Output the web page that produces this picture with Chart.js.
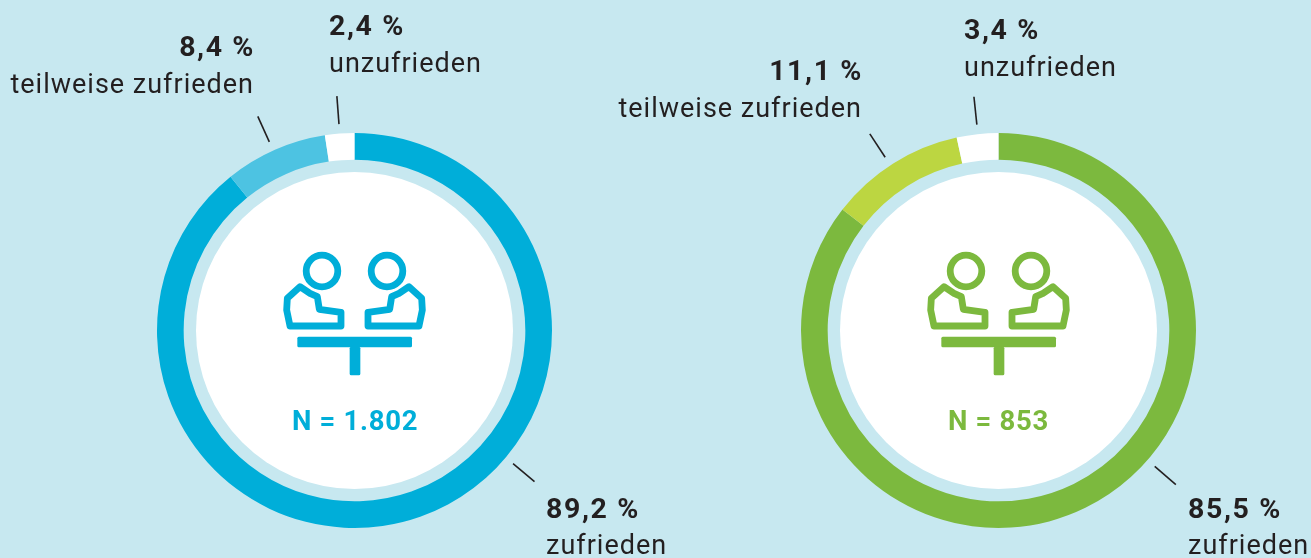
<!DOCTYPE html>
<html><head><meta charset="utf-8">
<script src="https://cdn.jsdelivr.net/npm/chart.js@4"></script>
<style>
html,body{margin:0;padding:0;background:#c7e8f0;width:1311px;height:558px;overflow:hidden}
canvas{position:absolute;top:0}
.t{position:absolute;white-space:nowrap;font-family:Roboto,sans-serif;color:#231f20;font-size:27px;line-height:30px;letter-spacing:1px}
.b{font-weight:700;font-size:28.5px;letter-spacing:1.6px}
.n{font-weight:700;font-size:27.5px;letter-spacing:.7px;text-align:center;width:200px}
</style></head><body>
<div id="wrapA" style="position:absolute;left:0;top:0;width:655px;height:558px"><canvas id="a"></canvas></div>
<div id="wrapB" style="position:absolute;left:655px;top:0;width:656px;height:558px"><canvas id="b"></canvas></div>
<script>
const categories = ["zufrieden", "teilweise zufrieden", "unzufrieden"];
const valuesLeft = [89.2, 8.4, 2.4];
const valuesRight = [85.5, 11.1, 3.4];
const valueLabelsLeft = ["89,2 %", "8,4 %", "2,4 %"];
const valueLabelsRight = ["85,5 %", "11,1 %", "3,4 %"];
const colorsLeft = ["#00aed9", "#4dc3e2", "#ffffff"];
const colorsRight = ["#7cb93e", "#bcd641", "#ffffff"];
const totalLeft = "N = 1.802";
const totalRight = "N = 853";
const leaderAnglesLeft = [130, -24.3, -4.3];
const leaderAnglesRight = [131, -33.2, -6];

function icon(ctx, cx, cy, color){
  const Z = (x,y)=>[x/3-124.5, y/3-100.5];
  const body=[[210,170],[172,205],[170,240],[180,288],[333,288],[333,247],[268,238],[262,200],[240,190]];
  ctx.save(); ctx.translate(cx,cy);
  ctx.strokeStyle=color; ctx.fillStyle=color; ctx.lineWidth=6.8; ctx.lineJoin='round';
  for(const s of [1,-1]){
    ctx.beginPath();
    body.forEach((p,i)=>{const q=Z(p[0],p[1]); ctx[i?'lineTo':'moveTo'](q[0]*s,q[1]);});
    ctx.closePath(); ctx.stroke();
    const h=Z(276,123);
    ctx.beginPath(); ctx.arc(h[0]*s,h[1],15.8,0,Math.PI*2); ctx.stroke();
  }
  let p=Z(202,320); ctx.beginPath(); ctx.roundRect(p[0],p[1],344/3,32/3,1.5); ctx.fill();
  p=Z(359,350); ctx.beginPath(); ctx.roundRect(p[0],p[1],32/3,86/3,1.5); ctx.fill();
  ctx.restore();
}

const centerPlugin = {
  id:'center',
  beforeDatasetsDraw(chart,args,opts){
    const m=chart.getDatasetMeta(0).data[0], ctx=chart.ctx;
    ctx.save(); ctx.fillStyle='#fff'; ctx.beginPath(); ctx.arc(m.x,m.y,158.5,0,Math.PI*2); ctx.fill(); ctx.restore();
    icon(ctx,m.x,m.y,opts.iconColor);
  },
  afterDatasetsDraw(chart,args,opts){
    const m=chart.getDatasetMeta(0).data[0], ctx=chart.ctx;
    ctx.save(); ctx.strokeStyle='#231f20'; ctx.lineWidth=1.6;
    opts.leaders.forEach(a=>{
      const r=a*Math.PI/180, s=Math.sin(r), c=-Math.cos(r);
      ctx.beginPath(); ctx.moveTo(m.x+s*207,m.y+c*207); ctx.lineTo(m.x+s*235,m.y+c*235); ctx.stroke();
    });
    ctx.restore();
  }
};

function ring(id,values,colors,pad,leaders){
  return new Chart(document.getElementById(id),{
    type:'doughnut',
    data:{labels:categories,datasets:[{data:values,backgroundColor:colors,borderWidth:0,hoverOffset:0}]},
    options:{responsive:true,maintainAspectRatio:false,animation:false,cutout:'86.5%',
      layout:{padding:pad},
      events:[],
      plugins:{legend:{display:false},tooltip:{enabled:false},center:{iconColor:colors[0],leaders}}},
    plugins:[centerPlugin]
  });
}
ring('a',valuesLeft,colorsLeft,{left:157,right:103,top:133,bottom:30},leaderAnglesLeft);
ring('b',valuesRight,colorsRight,{left:146,right:115,top:133,bottom:30},leaderAnglesRight);

function text(str,cls,baseline,opt){
  const d=document.createElement('div');
  d.className='t '+cls; d.textContent=str;
  d.style.top=(baseline-25)+'px';
  if(opt.left!==undefined)d.style.left=opt.left+'px';
  if(opt.right!==undefined)d.style.right=(1311-opt.right)+'px';
  if(opt.color)d.style.color=opt.color;
  document.body.appendChild(d);
}
text(valueLabelsLeft[1],'b',57,{right:255});
text(categories[1],'',94,{right:254});
text(valueLabelsLeft[2],'b',36,{left:329});
text(categories[2],'',73,{left:329});
text(valueLabelsLeft[0],'b',519,{left:546});
text(categories[0],'',555,{left:546});
text(totalLeft,'n',431,{left:255,color:colorsLeft[0]});
text(valueLabelsRight[1],'b',81,{right:863});
text(categories[1],'',118,{right:862});
text(valueLabelsRight[2],'b',40,{left:964});
text(categories[2],'',77,{left:964});
text(valueLabelsRight[0],'b',519,{left:1188});
text(categories[0],'',555,{left:1188});
text(totalRight,'n',431,{left:898.5,color:colorsRight[0]});
</script>
</body></html>
